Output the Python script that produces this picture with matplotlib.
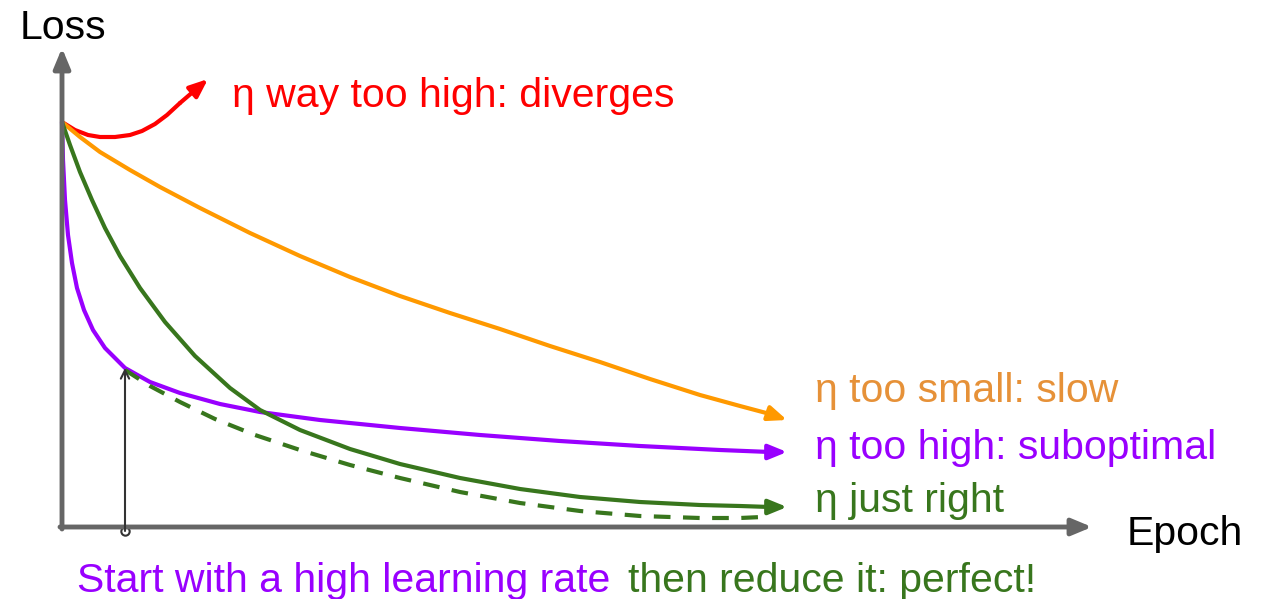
import matplotlib.pyplot as plt

plt.rcParams['font.family'] = ['Liberation Sans', 'DejaVu Sans']

# curve points (pixel-like units, y grows downward)
red_x = [62, 75, 88, 100, 115, 130, 142, 155, 167, 180]
red_y = [122, 130, 135, 137, 137, 135, 131, 124, 115, 103]

orange_x = [62, 80, 100, 130, 160, 200, 250, 300, 350, 400, 450, 500, 550, 600, 650, 700, 740, 770]
orange_y = [122, 137, 152, 170, 187, 208, 233, 256, 277, 296, 313, 329, 346, 362, 379, 395, 406, 414]

purple_x = [62, 63, 65, 68, 72, 77, 84, 93, 105, 125, 150, 180, 220, 260, 320, 400, 480, 560, 640, 720, 770]
purple_y = [122, 160, 200, 235, 263, 288, 310, 330, 348, 368, 382, 393, 404, 412, 420, 428, 435, 441, 446, 450, 452]

green_x = [62, 70, 80, 92, 105, 120, 140, 165, 195, 230, 260, 300, 350, 400, 460, 520, 580, 640, 700, 740, 770]
green_y = [122, 145, 172, 200, 228, 256, 288, 322, 356, 388, 410, 430, 449, 464, 478, 489, 497, 502, 505, 506, 507]

dash_x = [125, 150, 180, 215, 255, 300, 350, 400, 460, 520, 580, 640, 700, 740, 762]
dash_y = [370, 386, 402, 419, 435, 450, 465, 478, 492, 503, 511, 516, 518, 518, 517]

RED = '#ff0000'
ORANGE = '#ff9900'
ORANGE_TXT = '#e69138'
PURPLE = '#9900ff'
GREEN = '#38761d'
AXIS = '#666666'

fig = plt.figure(figsize=(12.66, 5.99), dpi=100)
ax = fig.add_axes([0, 0, 1, 1])
ax.set_xlim(0, 1266)
ax.set_ylim(599, 0)
ax.axis('off')

axis_arrow = dict(arrowstyle='-|>,head_length=1.2,head_width=0.5',
                  color=AXIS, lw=3.5, shrinkA=0, shrinkB=0)
ax.annotate('', xy=(62, 48), xytext=(62, 529), arrowprops=axis_arrow)
ax.annotate('', xy=(1092, 527), xytext=(60, 527), arrowprops=axis_arrow)


def curve(xs, ys, color, end, ls='-'):
    ax.plot(xs, ys, color=color, lw=3, ls=ls, solid_capstyle='round')
    ax.annotate('', xy=end, xytext=(xs[-1], ys[-1]),
                arrowprops=dict(arrowstyle='-|>,head_length=1.1,head_width=0.45',
                                color=color, lw=3, shrinkA=0, shrinkB=0))


curve(red_x, red_y, RED, (208, 79))
curve(orange_x, orange_y, ORANGE, (787, 420))
curve(purple_x, purple_y, PURPLE, (787, 452))
ax.plot(dash_x, dash_y, color=GREEN, lw=3, ls=(0, (4, 3)))
curve(green_x, green_y, GREEN, (787, 507))

# thin arrow marking the switch point
ax.annotate('', xy=(125, 368), xytext=(125, 531),
            arrowprops=dict(arrowstyle='->,head_length=0.6,head_width=0.3',
                            color='#333333', lw=1.5, shrinkA=0, shrinkB=0))
ax.plot([125], [531], marker='o', ms=6, mfc='white', mec='#333333', mew=1.5)

fs = 29.5
ax.text(20, 39, 'Loss', fontsize=fs, va='baseline', color='black')
ax.text(1127, 545, 'Epoch', fontsize=fs, va='baseline', color='black')
ax.text(232, 107, 'η way too high: diverges', fontsize=fs, color=RED, va='baseline')
ax.text(815, 402, 'η too small: slow', fontsize=fs, color=ORANGE_TXT, va='baseline')
ax.text(815, 459, 'η too high: suboptimal', fontsize=fs, color=PURPLE, va='baseline')
ax.text(815, 512, 'η just right', fontsize=fs, color=GREEN, va='baseline')
ax.text(77, 592, 'Start with a high learning rate', fontsize=fs, color=PURPLE, va='baseline')
ax.text(628, 592, 'then reduce it: perfect!', fontsize=fs, color=GREEN, va='baseline')

fig.savefig('out.png', dpi=100)
